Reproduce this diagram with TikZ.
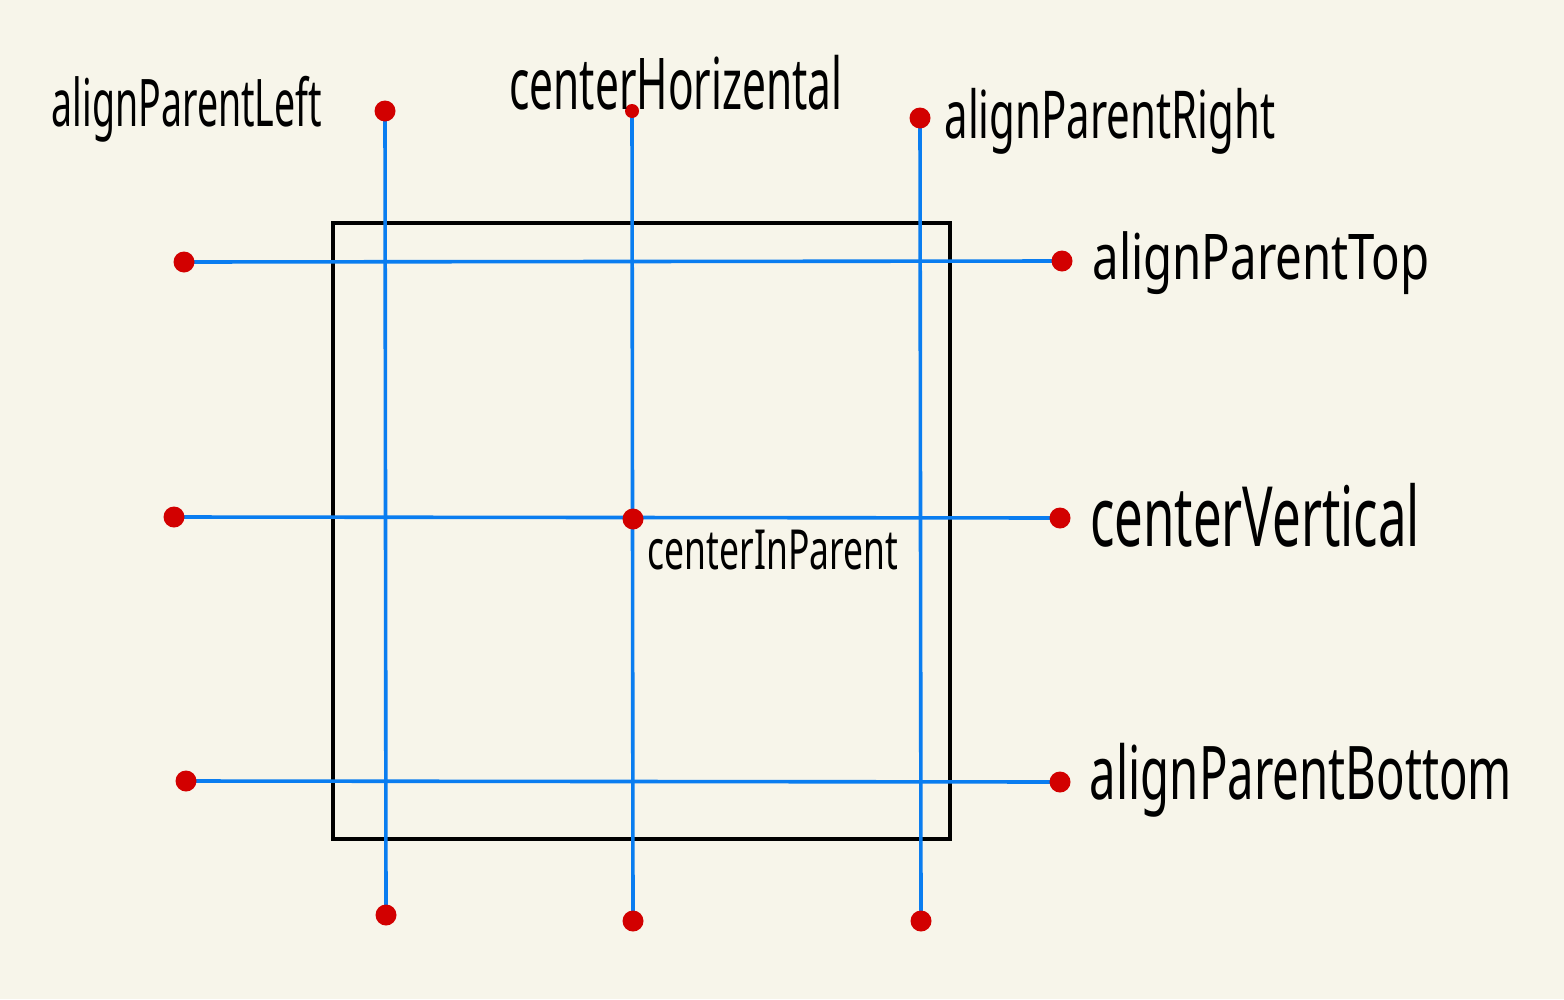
\documentclass[tikz,border=0pt]{standalone}
\usepackage{fontspec}
\setmainfont{Noto Sans}
\usepackage{graphicx}
\definecolor{bgc}{HTML}{F7F5EA}
\definecolor{linec}{HTML}{0A7DF0}
\definecolor{dotc}{HTML}{D20000}
\tikzset{
  wire/.style={draw=linec, line width=3.6pt},
  dot/.style={circle, fill=dotc, inner sep=0pt, minimum size=21pt},
  lbl/.style={inner sep=0pt, text=black},
  frame/.style={draw=black, line width=3.4pt}
}
\newcommand{\hw}[3]{\resizebox*{#1pt}{#2pt}{#3}}
\begin{document}
\begin{tikzpicture}[x=1pt,y=-1pt]
\fill[bgc] (0,0) rectangle (1564,999);
\useasboundingbox (0,0) rectangle (1564,999);
% frame
\node[frame, minimum width=617pt, minimum height=616pt, inner sep=0pt] (box) at (641.5,531) {};
% endpoints
\coordinate (v1t) at (385,111);
\coordinate (v1b) at (386,915);
\coordinate (v2t) at (632,111);
\coordinate (v2b) at (633,921);
\coordinate (v3t) at (920,118);
\coordinate (v3b) at (921,921);
\coordinate (h1l) at (184,262);
\coordinate (h1r) at (1062,261);
\coordinate (h2l) at (174,517);
\coordinate (h2r) at (1060,518);
\coordinate (h3l) at (186,781);
\coordinate (h3r) at (1060,782);
\coordinate (ctr) at (633,519);
% wires
\draw[wire] (v1t) -- (v1b);
\draw[wire] (v2t) -- (v2b);
\draw[wire] (v3t) -- (v3b);
\draw[wire] (h1l) -- (h1r);
\draw[wire] (h2l) -- (h2r);
\draw[wire] (h3l) -- (h3r);
% dots
\foreach \p in {v1t,v1b,v2b,v3t,v3b,h1l,h1r,h2l,h2r,h3l,h3r,ctr}
  \node[dot] (d\p) at (\p) {};
\node[dot, minimum size=14pt] (dv2t) at (v2t) {};
% labels
\node[lbl] (lLeft) at (187,109) {\hw{270}{66}{alignParentLeft}};
\node[lbl] (lHor) at (676,83) {\hw{333}{55}{centerHorizental}};
\node[lbl] (lRight) at (1110,121) {\hw{331}{66}{alignParentRight}};
\node[lbl] (lTop) at (1261,263) {\hw{337}{63}{alignParentTop}};
\node[lbl] (lVert) at (1255,515) {\hw{330}{64}{centerVertical}};
\node[lbl] (lIn) at (773,550) {\hw{250}{40}{centerInParent}};
\node[lbl] (lBot) at (1301,780) {\hw{422}{74}{alignParentBottom}};
\end{tikzpicture}
\end{document}
